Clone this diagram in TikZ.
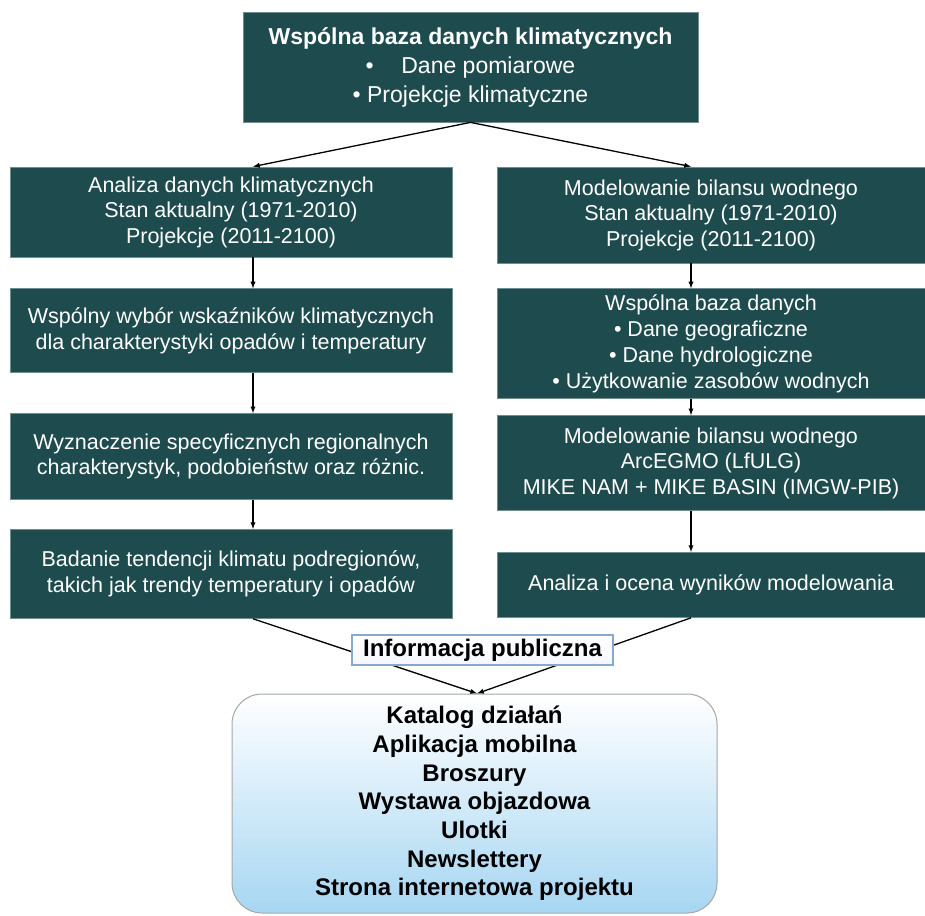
\documentclass[tikz,border=0pt]{standalone}
\usepackage{fontspec}
\setmainfont{Liberation Sans}
\usepackage{tikz}
\usetikzlibrary{arrows, shapes, positioning}

\definecolor{boxteal}{HTML}{1E4B4D}
\definecolor{boxedge}{HTML}{6F8E8E}
\definecolor{pubblue}{HTML}{A6D6F2}
\definecolor{infoedge}{HTML}{86AACB}

\tikzset{
	darkbox/.style={rectangle, fill=boxteal, draw=boxedge, line width=0.8pt, text=white, align=center, inner sep=0pt, font=\fontsize{21.5}{25.5}\selectfont},
	flow/.style={->, >=latex, line width=1.3pt}
}

\begin{document}
\begin{tikzpicture}[x=1pt, y=-1pt, node distance=30pt]
	\useasboundingbox (0,0) rectangle (925,915);
	\coordinate (lx) at (253,0);
	\coordinate (rx) at (691,0);
	
	\node[darkbox, minimum width=455pt, minimum height=110pt, font=\fontsize{23}{29}\selectfont] (db) at (470.5,67)
		{\textbf{Wspólna baza danych klimatycznych}\\\textbullet\hspace{1.2em}Dane pomiarowe\\\textbullet\ Projekcje klimatyczne};
	
	% lewa kolumna
	\node[darkbox, minimum width=442pt, minimum height=90pt] (an1) at (231,212)
		{Analiza danych klimatycznych\\Stan aktualny (1971-2010)\\Projekcje (2011-2100)};
	\node[darkbox, minimum width=442pt, minimum height=84pt] (an2) [below=31pt of an1]
		{Wspólny wybór wskaźników klimatycznych\\dla charakterystyki opadów i temperatury};
	\node[darkbox, minimum width=442pt, minimum height=86pt] (an3) [below=40pt of an2]
		{Wyznaczenie specyficznych regionalnych\\charakterystyk, podobieństw oraz różnic.};
	\node[darkbox, minimum width=442pt, minimum height=89pt] (an4) [below=29pt of an3]
		{Badanie tendencji klimatu podregionów,\\takich jak trendy temperatury i opadów};
	
	% prawa kolumna
	\node[darkbox, minimum width=428pt, minimum height=96pt] (mod1) at (711,215)
		{Modelowanie bilansu wodnego\\Stan aktualny (1971-2010)\\Projekcje (2011-2100)};
	\node[darkbox, minimum width=428pt, minimum height=110pt, font=\fontsize{21.5}{26}\selectfont] (mod2) [below=25pt of mod1]
		{Wspólna baza danych\\\textbullet\ Dane geograficzne\\\textbullet\ Dane hydrologiczne\\\textbullet\ Użytkowanie zasobów wodnych};
	\node[darkbox, minimum width=428pt, minimum height=95pt] (mod3) [below=16pt of mod2]
		{Modelowanie bilansu wodnego\\ArcEGMO (LfULG)\\MIKE NAM + MIKE BASIN (IMGW-PIB)};
	\node[darkbox, minimum width=428pt, minimum height=65pt] (mod4) [below=41pt of mod3]
		{Analiza i ocena wyników modelowania};
	
	\node[rectangle, rounded corners=30pt, draw=gray!70, line width=1pt, top color=white, middle color=white, bottom color=pubblue,
		minimum width=485pt, minimum height=219pt, align=center, inner sep=0pt, font=\fontsize{24}{28.7}\selectfont\bfseries] (pub) at (474.5,803.5)
		{Katalog działań\\Aplikacja mobilna\\Broszury\\Wystawa objazdowa\\Ulotki\\Newslettery\\Strona internetowa projektu};
	
	\draw[flow] (db.south) -- (an1.north -| lx);
	\draw[flow] (db.south) -- (mod1.north -| rx);
	\draw[flow] (an1.south -| lx) -- (an2.north -| lx);
	\draw[flow] (an2.south -| lx) -- (an3.north -| lx);
	\draw[flow] (an3.south -| lx) -- (an4.north -| lx);
	\draw[flow] (mod1.south -| rx) -- (mod2.north -| rx);
	\draw[flow] (mod2.south -| rx) -- (mod3.north -| rx);
	\draw[flow] (mod3.south -| rx) -- (mod4.north -| rx);
	\draw[flow] (an4.south -| lx) -- ([xshift=2.5pt]pub.north);
	\draw[flow] (mod4.south -| rx) -- ([xshift=2.5pt]pub.north);
	
	\node[rectangle, draw=infoedge, line width=1.5pt, top color=white, bottom color=blue!4, minimum width=261pt, minimum height=30pt,
		inner sep=0pt, font=\fontsize{24}{28}\selectfont\bfseries] (info) at (482.5,650) {Informacja publiczna};
\end{tikzpicture}
\end{document}
